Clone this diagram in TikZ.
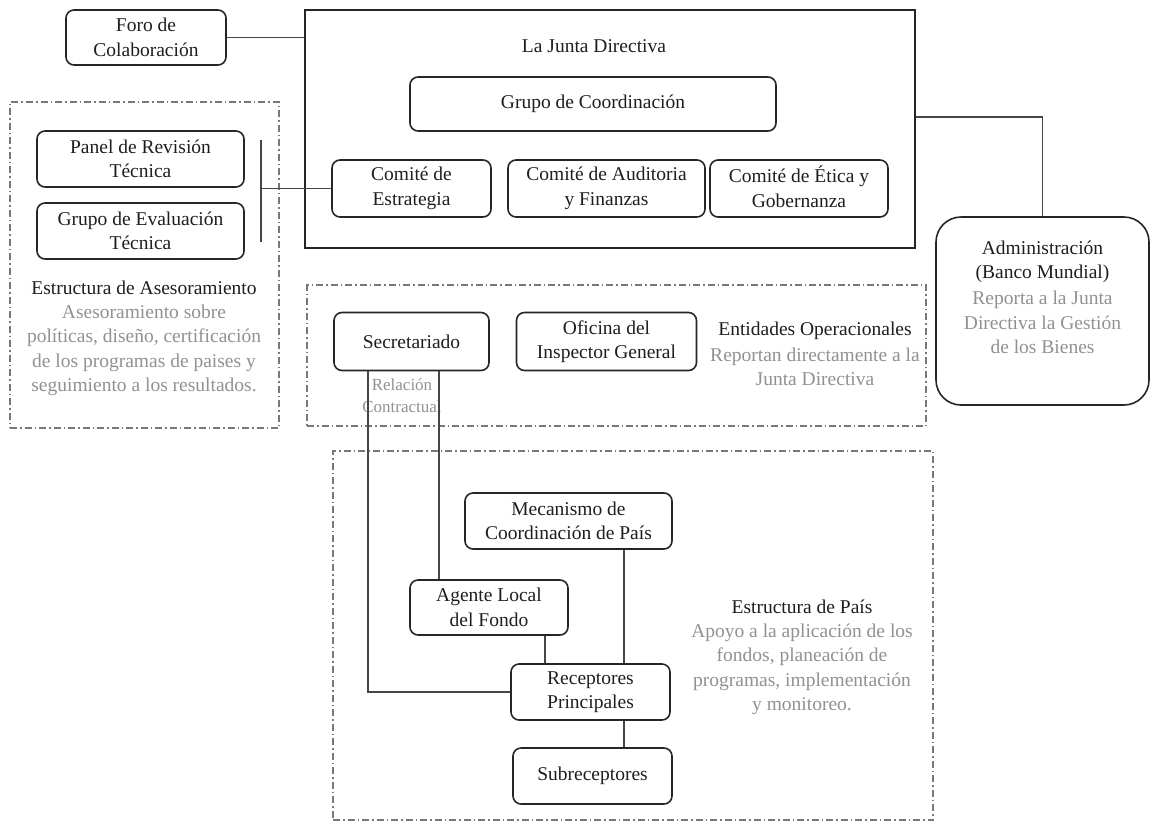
\documentclass[tikz,border=0pt]{standalone}
\usepackage{fontspec}
\setmainfont{Liberation Serif}
\newcommand{\mainfs}{\fontsize{19.5}{24.5}\selectfont}
\newcommand{\smallfs}{\fontsize{17}{22}\selectfont}
\definecolor{txtgray}{RGB}{145,145,145}
\definecolor{txtdark}{RGB}{30,30,30}
\definecolor{linegray}{RGB}{70,70,70}
\definecolor{dashgray}{RGB}{120,120,120}
\tikzset{
  box/.style={draw=black!85, line width=1.6pt, rounded corners=8pt, align=center, inner sep=0pt, font=\mainfs, text=txtdark},
  conn/.style={draw=linegray, line width=1.1pt},
  grp/.style={draw=dashgray, line width=1.1pt, dash pattern=on 7pt off 3pt on 1.5pt off 3pt, inner sep=0pt},
  lbl/.style={align=center, inner sep=0pt, font=\mainfs, text=txtdark},
  glbl/.style={lbl, text=txtgray},
}
\begin{document}
\begin{tikzpicture}[x=1pt,y=-1pt]
\useasboundingbox (0,0) rectangle (1151,823);
% group frames
\node[grp, minimum width=269pt, minimum height=326pt] (ases) at (144.5,265) {};
\node[grp, minimum width=619pt, minimum height=141pt] (ent) at (616.5,355.5) {};
\node[grp, minimum width=600pt, minimum height=369pt] (pais) at (633,635.5) {};
% Junta
\node[draw=black!85, line width=1.8pt, minimum width=610pt, minimum height=238pt, inner sep=0pt] (junta) at (610,129) {};
\node[lbl] (jlabel) at (594,46) {La Junta Directiva};
\node[box, minimum width=366pt, minimum height=54pt] (grupo) at (593,104) {Grupo de Coordinación};
\node[box, minimum width=159pt, minimum height=57pt] (est) at (411.5,188.5) {Comité de\\Estrategia};
\node[box, minimum width=197pt, minimum height=57pt] (aud) at (606.5,188.5) {Comité de Auditoria\\y Finanzas};
\node[box, minimum width=178pt, minimum height=57pt] (eti) at (799,188.5) {Comité de \smash{É}tica y\\Gobernanza};
% Foro
\node[box, minimum width=160pt, minimum height=55pt] (foro) at (146,37.5) {Foro de\\Colaboración};
% Asesoramiento
\node[box, minimum width=207pt, minimum height=56pt] (panel) at (140.5,159) {Panel de Revisión\\Técnica};
\node[box, minimum width=207pt, minimum height=56pt] (geval) at (140.5,231) {Grupo de Evaluación\\Técnica};
\node[lbl] (aseslbl) at (144,288) {Estructura de Asesoramiento};
\node[glbl] (asestxt) at (144,350.5) {Asesoramiento sobre\\políticas, diseño, certificación\\de los programas de paises y\\seguimiento a los resultados.};
% Administracion
\node[box, rounded corners=25pt, minimum width=213pt, minimum height=188pt] (admin) at (1042.5,311) {};
\node[lbl] (adminlbl) at (1042.5,262) {Administración\\(Banco Mundial)};
\node[glbl] (admintxt) at (1042.5,322.5) {Reporta a la Junta\\Directiva la Gestión\\de los Bienes};
% Entidades
\node[box, minimum width=155pt, minimum height=58pt] (sec) at (411.5,341.5) {Secretariado};
\node[box, minimum width=180pt, minimum height=58pt] (ofi) at (606.5,341.5) {Oficina del\\Inspector General};
\node[lbl] (entlbl) at (815,331) {Entidades Operacionales};
\node[glbl] (enttxt) at (815,367) {Reportan directamente a la\\Junta Directiva};
\node[glbl, font=\smallfs] (rel) at (402,396) {Relación\\Contractual};
% Pais
\node[box, minimum width=207pt, minimum height=56pt] (mec) at (568.5,521) {Mecanismo de\\Coordinación de País};
\node[box, minimum width=158pt, minimum height=55pt] (agente) at (489,607.5) {Agente Local\\del Fondo};
\node[box, minimum width=159pt, minimum height=56pt] (rec) at (590.5,692) {Receptores\\Principales};
\node[box, minimum width=159pt, minimum height=56pt] (sub) at (592.5,776) {Subreceptores};
\node[lbl] (paislbl) at (802,607) {Estructura de País};
\node[glbl] (paistxt) at (802,669.5) {Apoyo a la aplicación de los\\fondos, planeación de\\programas, implementación\\y monitoreo.};
% helper coordinates
\coordinate (brT) at (261,140);
\coordinate (brB) at (261,242);
\coordinate (xa) at (368,0);
\coordinate (xb) at (439,0);
\coordinate (xc) at (624,0);
\coordinate (xd) at (545,0);
% connectors
\draw[conn] (foro.east) -- (foro.east -| junta.west);
\draw[conn] ([yshift=12pt]junta.east) -| (admin.north);
\draw[conn] (brT) -- (brB);
\draw[conn] (est.west) -- (est.west -| brT);
\draw[conn] (sec.south -| xa) |- (rec.west);
\draw[conn] (sec.south -| xb) -- (agente.north -| xb);
\draw[conn] (mec.south -| xc) -- (rec.north -| xc);
\draw[conn] (agente.south -| xd) -- (rec.north -| xd);
\draw[conn] (rec.south -| xc) -- (sub.north -| xc);
\end{tikzpicture}
\end{document}
